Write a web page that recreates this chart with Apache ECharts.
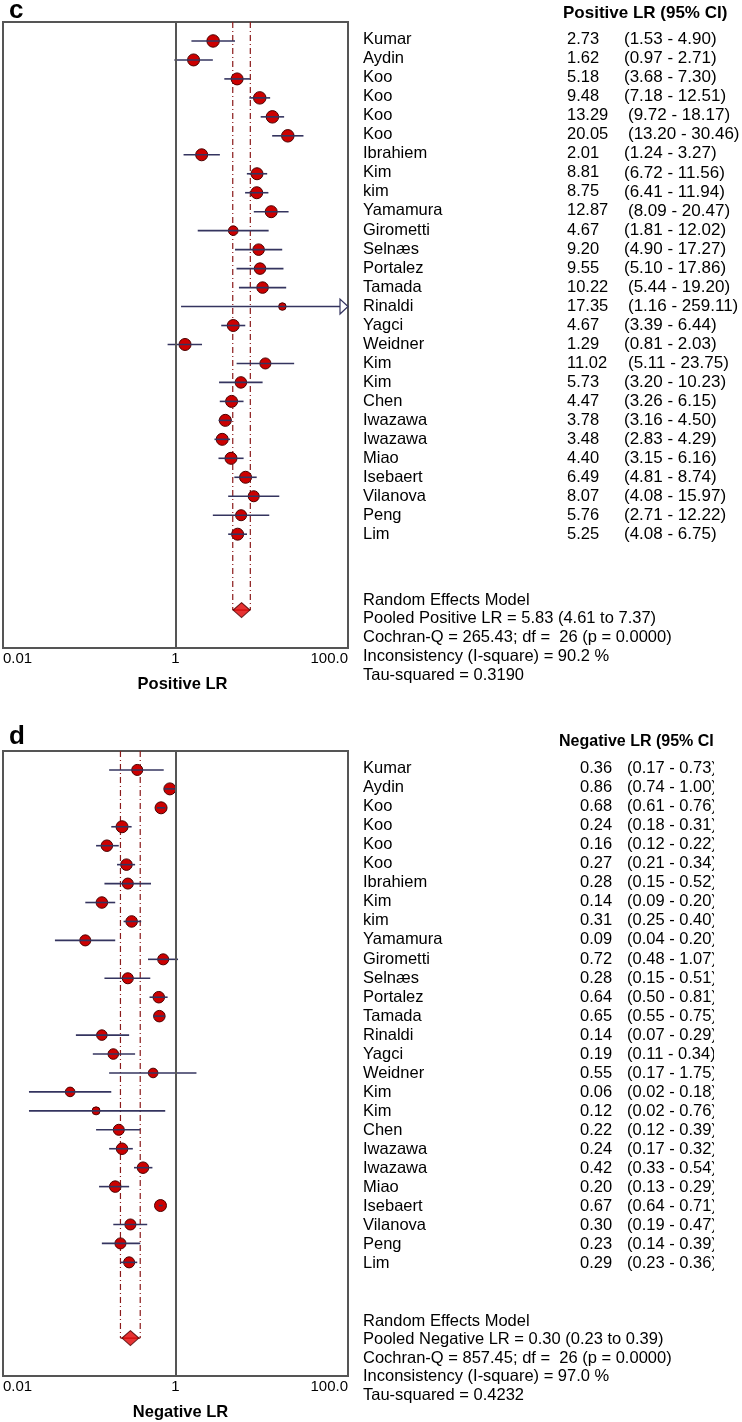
<!DOCTYPE html>
<html><head><meta charset="utf-8">
<script src="https://cdn.jsdelivr.net/npm/echarts@6/dist/echarts.min.js"></script>
<style>html,body{margin:0;padding:0;background:#fff}#c{width:742px;height:1422px}</style>
</head><body><div id="c"></div>
<script>
// ---------------- data ----------------
const studies = ["Kumar","Aydin","Koo","Koo","Koo","Koo","Ibrahiem","Kim","kim","Yamamura","Girometti","Selnæs","Portalez","Tamada","Rinaldi","Yagci","Weidner","Kim","Kim","Chen","Iwazawa","Iwazawa","Miao","Isebaert","Vilanova","Peng","Lim"];

const posLR = [2.73,1.62,5.18,9.48,13.29,20.05,2.01,8.81,8.75,12.87,4.67,9.20,9.55,10.22,17.35,4.67,1.29,11.02,5.73,4.47,3.78,3.48,4.40,6.49,8.07,5.76,5.25];
const posLo = [1.53,0.97,3.68,7.18,9.72,13.20,1.24,6.72,6.41,8.09,1.81,4.90,5.10,5.44,1.16,3.39,0.81,5.11,3.20,3.26,3.16,2.83,3.15,4.81,4.08,2.71,4.08];
const posHi = [4.90,2.71,7.30,12.51,18.17,30.46,3.27,11.56,11.94,20.47,12.02,17.27,17.86,19.20,259.11,6.44,2.03,23.75,10.23,6.15,4.50,4.29,6.16,8.74,15.97,12.22,6.75];
const posWeight = [3.9,3.75,3.75,3.9,3.9,3.9,3.75,3.75,3.75,3.75,3.0,3.6,3.6,3.6,2.35,3.75,3.75,3.45,3.6,3.75,3.75,3.75,3.75,3.75,3.45,3.45,3.75];
const posPooled = [5.83, 4.61, 7.37];
const posStats = ["Random Effects Model","Pooled Positive LR = 5.83 (4.61 to 7.37)","Cochran-Q = 265.43; df =  26 (p = 0.0000)","Inconsistency (I-square) = 90.2 %","Tau-squared = 0.3190"];

const negLR = [0.36,0.86,0.68,0.24,0.16,0.27,0.28,0.14,0.31,0.09,0.72,0.28,0.64,0.65,0.14,0.19,0.55,0.06,0.12,0.22,0.24,0.42,0.20,0.67,0.30,0.23,0.29];
const negLo = [0.17,0.74,0.61,0.18,0.12,0.21,0.15,0.09,0.25,0.04,0.48,0.15,0.50,0.55,0.07,0.11,0.17,0.02,0.02,0.12,0.17,0.33,0.13,0.64,0.19,0.14,0.23];
const negHi = [0.73,1.00,0.76,0.31,0.22,0.34,0.52,0.20,0.40,0.20,1.07,0.51,0.81,0.75,0.29,0.34,1.75,0.18,0.76,0.39,0.32,0.54,0.29,0.71,0.47,0.39,0.36];
const negWeight = [3.45,3.75,3.75,3.75,3.6,3.6,3.45,3.6,3.6,3.45,3.45,3.45,3.6,3.6,3.3,3.3,3.0,3.0,2.5,3.45,3.6,3.6,3.6,3.75,3.45,3.45,3.45];
const negPooled = [0.30, 0.23, 0.39];
const negStats = ["Random Effects Model","Pooled Negative LR = 0.30 (0.23 to 0.39)","Cochran-Q = 857.45; df =  26 (p = 0.0000)","Inconsistency (I-square) = 97.0 %","Tau-squared = 0.4232"];

const xTickLabels = {"-2":"0.01","0":"1","2":"100.0"};
const xMin = 0.01, xMax = 100;

// ---------------- layout / style ----------------
const FONT = '"Liberation Sans", Arial, sans-serif';
const LINE = '#34345f';
const RED = '#cc0000';
const DRED = '#8b1a1a';
const Y_MIN = -1, Y_MAX = 32, POOL_ROW = 30;
const TXT = 16.5;

const panels = [
  {tag:'c', lr:posLR, lo:posLo, hi:posHi, w:posWeight, pooled:posPooled, stats:posStats,
   title:'Positive LR (95% CI)', titleX:563, titleSize:17, axisName:'Positive LR', namePad:14,
   top:22, height:626, labelY:11, headY:13, textTop:39.5, textStep:19.05, valX:567, ciX:624, ciXWide:628, ciSize:17,
   statsY:600, statsStep:18.8, clipX:null},
  {tag:'d', lr:negLR, lo:negLo, hi:negHi, w:negWeight, pooled:negPooled, stats:negStats,
   title:'Negative LR (95% CI)', titleX:559, titleSize:16, axisName:'Negative LR', namePad:10,
   top:751, height:627, labelY:737, headY:742, textTop:768.5, textStep:19.05, valX:580, ciX:627, ciXWide:627, ciSize:16.5,
   statsY:1321, statsStep:18.6, clipX:714}
];

function ciRender(params, api){
  const lo = api.value(0), hi = api.value(1), row = api.value(2);
  const a = api.coord([Math.max(lo, xMin), row]);
  const b = api.coord([Math.min(hi, xMax), row]);
  const over = hi > xMax;
  const children = [];
  const endX = over ? b[0] - 8 : b[0];
  children.push({type:'line', shape:{x1:a[0], y1:a[1], x2:endX, y2:b[1]}, style:{stroke:LINE, lineWidth:1.6}});
  if (over) {
    children.push({type:'polygon', shape:{points:[[b[0], b[1]],[b[0]-8, b[1]-7.5],[b[0]-8, b[1]+7.5]]},
      style:{fill:'#fff', stroke:LINE, lineWidth:1.2}});
  }
  return {type:'group', children};
}
function pooledRender(params, api){
  const lo = api.value(0), hi = api.value(1), row = api.value(2);
  const a = api.coord([lo, row]), b = api.coord([hi, row]);
  const at = api.coord([lo, Y_MIN]), bt = api.coord([hi, Y_MIN]);
  const st = {stroke:DRED, lineWidth:1.2, lineDash:[6,3,1,3]};
  return {type:'group', children:[
    {type:'line', shape:{x1:at[0], y1:at[1], x2:a[0], y2:a[1]}, style:st},
    {type:'line', shape:{x1:bt[0], y1:bt[1], x2:b[0], y2:b[1]}, style:st},
    {type:'line', shape:{x1:a[0], y1:a[1], x2:b[0], y2:b[1]}, style:{stroke:DRED, lineWidth:1.2}}
  ]};
}

const grid = [], xAxis = [], yAxis = [], series = [], graphic = [];
panels.forEach((p, gi) => {
  grid.push({left:2, top:p.top, width:346, height:p.height, show:true, borderColor:'#555', borderWidth:2, backgroundColor:'#fff'});
  xAxis.push({type:'log', logBase:10, min:xMin, max:xMax, gridIndex:gi,
    axisLine:{show:false}, axisTick:{show:false}, splitLine:{show:false},
    axisLabel:{show:true, margin:3, color:'#000', fontFamily:FONT, fontSize:15,
      alignMinLabel:'left', alignMaxLabel:'right',
      formatter: v => { const k = String(Math.round(Math.log10(v))); return xTickLabels[k] || ''; }},
    name:p.axisName, nameLocation:'middle', nameGap:28,
    nameTextStyle:{fontFamily:FONT, fontSize:16.5, fontWeight:'bold', color:'#000', padding:[0,0,0,p.namePad]}
  });
  yAxis.push({type:'value', gridIndex:gi, min:Y_MIN, max:Y_MAX, inverse:true, show:false});

  series.push({type:'custom', xAxisIndex:gi, yAxisIndex:gi, z:2, silent:true,
    renderItem:pooledRender, encode:{x:[0,1], y:2},
    data:[[p.pooled[1], p.pooled[2], POOL_ROW]]});
  series.push({type:'scatter', xAxisIndex:gi, yAxisIndex:gi, z:3, silent:true,
    data:p.lr.map((v,i)=>[v,i,p.w[i]]),
    symbolSize:(val)=>val[2]*3.2,
    itemStyle:{color:RED, borderColor:'#4a0000', borderWidth:1, opacity:1},
    markLine:{silent:true, symbol:'none', label:{show:false},
      lineStyle:{color:'#555', width:2, type:'solid'}, data:[{xAxis:1}]}
  });
  series.push({type:'custom', xAxisIndex:gi, yAxisIndex:gi, z:4, silent:true,
    renderItem:ciRender, encode:{x:[0,1], y:2},
    data:p.lo.map((v,i)=>[v, p.hi[i], i])});
  series.push({type:'scatter', xAxisIndex:gi, yAxisIndex:gi, z:5, silent:true,
    symbol:'diamond', symbolSize:[17,15],
    data:[[p.pooled[0], POOL_ROW]],
    itemStyle:{color:'#e00000', borderColor:'#4a0000', borderWidth:1}});

  graphic.push({type:'text', x:9, y:p.labelY, style:{text:p.tag, font:'bold 26px '+FONT, fill:'#000', verticalAlign:'middle'}});
  graphic.push({type:'text', x:p.titleX, y:p.headY, style:{text:p.title, font:'bold '+p.titleSize+'px '+FONT, fill:'#000', verticalAlign:'middle'}});
  studies.forEach((s,i)=>{
    const y = p.textTop + i*p.textStep;
    graphic.push({type:'text', x:363, y, style:{text:s, font:TXT+'px '+FONT, fill:'#000', verticalAlign:'middle'}});
    graphic.push({type:'text', x:p.valX, y, style:{text:p.lr[i].toFixed(2), font:TXT+'px '+FONT, fill:'#000', verticalAlign:'middle'}});
    graphic.push({type:'text', x:(p.lr[i] >= 10 ? p.ciXWide : p.ciX), y,
      style:{text:'(' + p.lo[i].toFixed(2) + ' - ' + p.hi[i].toFixed(2) + ')', font:p.ciSize+'px '+FONT, fill:'#000', verticalAlign:'middle'}});
  });
  if (p.clipX) {
    graphic.push({type:'rect', z:100, shape:{x:p.clipX, y:p.headY-12, width:742-p.clipX, height:p.textTop + 27*p.textStep - p.headY},
      style:{fill:'#fff'}});
  }
  p.stats.forEach((t,k)=>{
    graphic.push({type:'text', x:363, y:p.statsY + k*p.statsStep, style:{text:t, font:TXT+'px '+FONT, fill:'#000', verticalAlign:'middle'}});
  });
});

const chart = echarts.init(document.getElementById('c'), null, {renderer:'canvas'});
chart.setOption({animation:false, backgroundColor:'#fff', grid, xAxis, yAxis, series, graphic});
</script></body></html>
